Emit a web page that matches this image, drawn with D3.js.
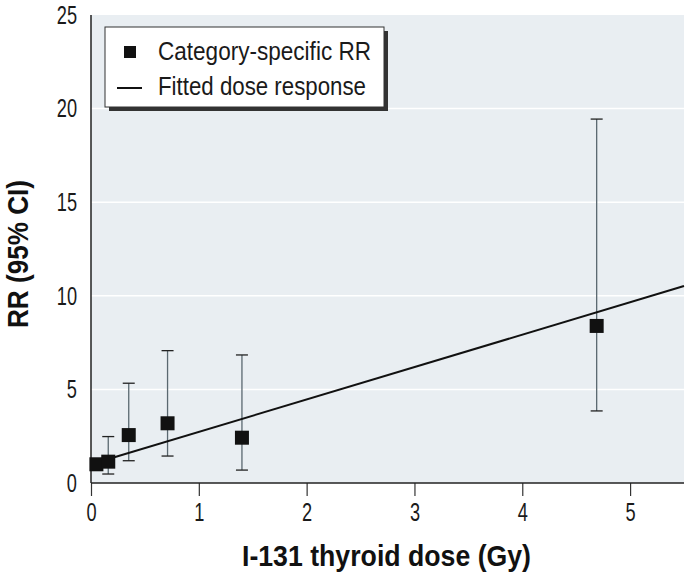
<!DOCTYPE html>
<html><head><meta charset="utf-8">
<script src="https://cdn.jsdelivr.net/npm/d3@7/dist/d3.min.js"></script>
<style>
html,body{margin:0;padding:0;background:#fff;}
text{font-family:"Liberation Sans",Arial,sans-serif;}
</style></head><body>
<svg id="c" width="690" height="575"></svg>
<script>
const doses = [0.05, 0.16, 0.35, 0.71, 1.40, 4.69];
const rr = [1.0, 1.14, 2.56, 3.19, 2.42, 8.39];
const ciLow = [null, 0.48, 1.19, 1.44, 0.69, 3.85];
const ciHigh = [null, 2.48, 5.33, 7.07, 6.84, 19.44];
const fitX = [0, 5.5];
const fitY = [1.0, 10.52];
const xTicks = [0, 1, 2, 3, 4, 5];
const yTicks = [0, 5, 10, 15, 20, 25];
const gridY = [5, 10, 15, 20];

const svg = d3.select("#c");
const x = d3.scaleLinear().domain([0, 5.5]).range([91, 684]);
const y = d3.scaleLinear().domain([0, 25]).range([483, 15]);

function condense(sel, f) {
  sel.each(function() {
    const w = this.getComputedTextLength();
    d3.select(this).attr("textLength", w * f).attr("lengthAdjust", "spacingAndGlyphs");
  });
}

svg.append("rect").attr("x", x(0)).attr("y", y(25)).attr("width", x(5.5)-x(0)).attr("height", y(0)-y(25)).attr("fill", "#e9eef2");
svg.selectAll(".grid").data(gridY).enter().append("line")
  .attr("x1", x(0)).attr("x2", x(5.5)).attr("y1", d=>y(d)).attr("y2", d=>y(d))
  .attr("stroke", "#fff").attr("stroke-width", 1.5);

// axes
const xAxis = d3.axisBottom(x).tickValues(xTicks).tickSize(13).tickPadding(7).tickFormat(d3.format("d"));
const gx = svg.append("g").attr("transform", `translate(0,${y(0)})`).call(xAxis);
gx.select(".domain").remove();
gx.selectAll(".tick line").attr("stroke", "#333").attr("stroke-width", 1.2);
gx.selectAll(".tick text").attr("font-size", 26).attr("fill", "#1a1a1a").attr("font-family", "Liberation Sans");
condense(gx.selectAll(".tick text"), 0.7);

const yAxis = d3.axisLeft(y).tickValues(yTicks).tickSize(0).tickPadding(14).tickFormat(d3.format("d"));
const gy = svg.append("g").attr("transform", `translate(${x(0)},0)`).call(yAxis);
gy.select(".domain").remove();
gy.selectAll(".tick text").attr("font-size", 26).attr("fill", "#1a1a1a").attr("font-family", "Liberation Sans");
condense(gy.selectAll(".tick text"), 0.7);

svg.append("line").attr("x1", x(0)).attr("x2", x(5.5)).attr("y1", y(0)).attr("y2", y(0)).attr("stroke", "#222").attr("stroke-width", 1.5);
svg.append("line").attr("x1", x(0)).attr("x2", x(0)).attr("y1", y(0)).attr("y2", y(25)).attr("stroke", "#222").attr("stroke-width", 1.5);

// error bars
const ci = doses.map((d,i)=>({d, lo:ciLow[i], hi:ciHigh[i]})).filter(e=>e.lo!==null);
const eb = svg.append("g").attr("stroke", "#5a6870").attr("stroke-width", 1.3);
eb.selectAll(".v").data(ci).enter().append("line")
  .attr("x1", e=>x(e.d)).attr("x2", e=>x(e.d)).attr("y1", e=>y(e.lo)).attr("y2", e=>y(e.hi));
eb.selectAll(".t").data(ci).enter().append("line")
  .attr("x1", e=>x(e.d)-6).attr("x2", e=>x(e.d)+6).attr("y1", e=>y(e.hi)).attr("y2", e=>y(e.hi)).attr("stroke","#222");
eb.selectAll(".b").data(ci).enter().append("line")
  .attr("x1", e=>x(e.d)-6).attr("x2", e=>x(e.d)+6).attr("y1", e=>y(e.lo)).attr("y2", e=>y(e.lo)).attr("stroke","#222");

// fitted line
const line = d3.line().x(d=>x(d[0])).y(d=>y(d[1]));
svg.append("path").datum(fitX.map((v,i)=>[v, fitY[i]])).attr("d", line)
  .attr("fill", "none").attr("stroke", "#111").attr("stroke-width", 2);

// squares
const s = 14;
svg.selectAll(".pt").data(doses).enter().append("rect")
  .attr("x", (d)=>x(d)-s/2).attr("y", (d,i)=>y(rr[i])-s/2).attr("width", s).attr("height", s).attr("fill", "#111");

// legend
const lg = svg.append("g");
lg.append("rect").attr("x", 109).attr("y", 31).attr("width", 279).attr("height", 80).attr("fill", "#333");
lg.append("rect").attr("x", 105).attr("y", 27).attr("width", 279).attr("height", 80).attr("fill", "#fff").attr("stroke", "#333").attr("stroke-width", 1);
lg.append("rect").attr("x", 124).attr("y", 46).attr("width", 12).attr("height", 12).attr("fill", "#111");
lg.append("line").attr("x1", 117).attr("x2", 142).attr("y1", 88).attr("y2", 88).attr("stroke", "#111").attr("stroke-width", 2);
lg.append("text").attr("x", 158).attr("y", 60).attr("font-size", 25).attr("fill", "#1a1a1a")
  .attr("textLength", 213).attr("lengthAdjust", "spacingAndGlyphs").text("Category-specific RR");
lg.append("text").attr("x", 158).attr("y", 95).attr("font-size", 25).attr("fill", "#1a1a1a")
  .attr("textLength", 208).attr("lengthAdjust", "spacingAndGlyphs").text("Fitted dose response");

// titles
svg.append("text").attr("x", 242).attr("y", 566).attr("font-size", 30).attr("font-weight", "bold").attr("fill", "#111")
  .attr("textLength", 289).attr("lengthAdjust", "spacingAndGlyphs").text("I-131 thyroid dose (Gy)");
svg.append("text").attr("transform", "translate(28,328) rotate(-90)").attr("font-size", 30).attr("font-weight", "bold").attr("fill", "#111")
  .attr("textLength", 148).attr("lengthAdjust", "spacingAndGlyphs").text("RR (95% CI)");
</script></body></html>
